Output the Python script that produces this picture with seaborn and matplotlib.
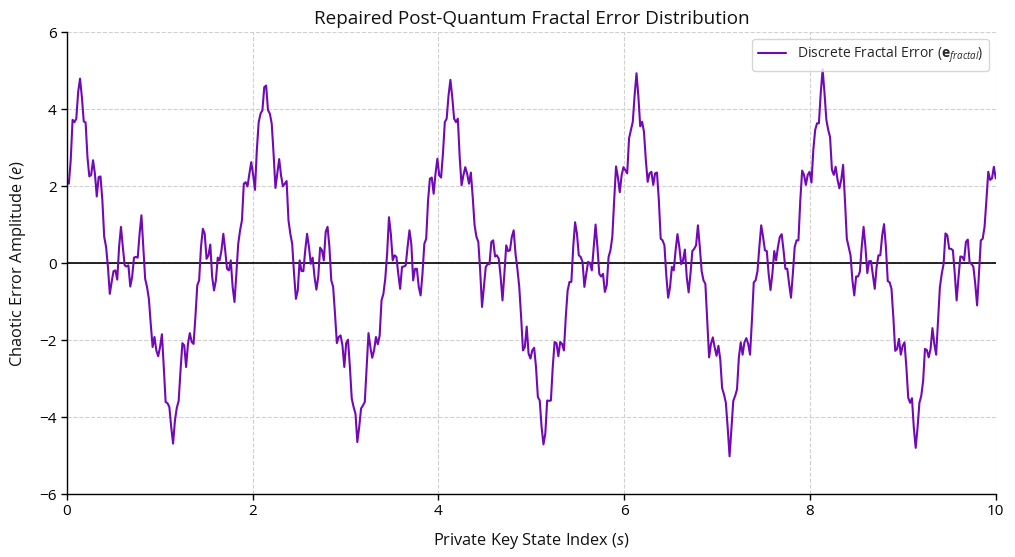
import numpy as np
import pandas as pd
import matplotlib
matplotlib.use("Agg")
import matplotlib.pyplot as plt
import seaborn as sns

# error amplitude, one list per 2-unit stretch of the index
period_1 = [2.15, 2.06, 2.67, 3.72, 3.66, 3.75, 4.44, 4.79, 4.31, 3.68,
            3.65, 2.75, 2.25, 2.29, 2.67, 2.32, 1.73, 2.23, 2.25, 1.63,
            0.68, 0.42, -0.10, -0.80, -0.49, -0.21, -0.19, -0.43, 0.42, 0.94,
            0.42, -0.06, -0.09, -0.06, -0.61, -0.36, 0.14, 0.16, 0.14, 0.76,
            1.24, 0.42, -0.41, -0.62, -0.93, -1.58, -2.18, -1.92, -2.27, -2.42,
            -2.18, -1.85, -2.70, -3.61, -3.64, -3.74, -4.26, -4.69, -4.09, -3.76,
            -3.58, -2.79, -2.08, -2.14, -2.70, -2.10, -1.82, -2.05, -2.10, -1.40,
            -0.58, -0.45, 0.42, 0.89, 0.76, 0.11, 0.20, 0.48, -0.36, -0.71,
            -0.45, 0.14, 0.07, 0.33, 0.76, 0.33, -0.15, -0.19, 0.07, -0.62,
            -1.01, -0.28, 0.50, 0.85, 1.11, 2.06, 2.10, 1.99, 2.32, 2.62]
period_2 = [2.30, 1.90, 2.93, 3.66, 3.88, 3.97, 4.57, 4.61, 3.97, 3.88,
            3.62, 2.84, 1.95, 2.32, 2.70, 2.28, 1.99, 2.06, 2.13, 1.11,
            0.76, 0.50, -0.28, -0.93, -0.71, 0.07, -0.21, -0.21, 0.33, 0.76,
            0.42, -0.02, 0.14, -0.36, -0.69, -0.36, 0.40, 0.33, 0.07, 0.81,
            0.94, 0.42, -0.45, -0.62, -1.32, -2.08, -1.92, -1.88, -2.14, -2.70,
            -2.08, -1.99, -2.70, -3.52, -3.74, -3.91, -4.65, -4.26, -3.78, -3.70,
            -3.61, -2.70, -1.82, -2.18, -2.46, -2.27, -1.92, -2.11, -1.88, -0.97,
            -0.80, -0.41, 0.24, 1.19, 0.76, 0.07, 0.20, 0.16, -0.28, -0.67,
            -0.10, -0.09, -0.06, 0.42, 0.85, 0.50, -0.45, -0.15, -0.15, -0.62,
            -0.84, -0.28, 0.50, 0.63, 1.63, 2.19, 2.22, 1.80, 2.32, 2.71]
period_3 = [2.28, 2.22, 2.84, 3.66, 3.75, 4.35, 4.76, 4.31, 3.75, 3.66,
            3.75, 2.75, 2.02, 2.28, 2.49, 2.32, 2.06, 2.35, 1.71, 0.98,
            0.68, 0.55, -0.19, -1.14, -0.62, -0.10, -0.03, -0.03, 0.55, 0.59,
            0.17, 0.20, 0.11, -0.36, -0.97, -0.28, 0.46, 0.31, 0.33, 0.68,
            0.85, 0.24, -0.15, -0.62, -1.40, -2.27, -2.18, -1.65, -2.35, -2.48,
            -2.27, -2.20, -2.70, -3.48, -3.57, -4.26, -4.71, -4.43, -3.57, -3.58,
            -3.57, -2.70, -2.05, -2.08, -2.42, -2.05, -2.10, -2.27, -1.40, -0.71,
            -0.49, -0.49, 0.42, 1.06, 0.76, 0.20, 0.16, 0.03, -0.62, -0.28,
            0.03, 0.00, -0.19, 0.42, 1.00, 0.42, -0.28, -0.35, -0.28, -0.75,
            -0.58, 0.16, 0.33, 0.68, 1.63, 2.51, 2.23, 1.84, 2.28, 2.49]
period_4 = [2.41, 2.33, 3.24, 3.46, 3.67, 4.37, 4.93, 4.33, 3.55, 3.67,
            3.41, 2.68, 2.11, 2.33, 2.37, 2.03, 2.33, 2.35, 1.63, 0.63,
            0.59, 0.46, -0.32, -0.90, -0.63, -0.10, -0.19, 0.33, 0.75, 0.42,
            -0.03, 0.07, 0.35, -0.37, -0.76, -0.28, 0.31, 0.37, 0.46, 0.98,
            0.42, -0.21, -0.45, -0.54, -1.50, -2.45, -2.10, -1.93, -2.19, -2.41,
            -2.15, -2.50, -3.25, -3.41, -3.63, -4.28, -5.02, -4.28, -3.58, -3.45,
            -3.28, -2.45, -2.06, -2.38, -2.06, -1.95, -2.10, -2.38, -1.50, -0.50,
            -0.45, -0.21, 0.42, 0.98, 0.68, 0.33, 0.31, -0.28, -0.70, -0.28,
            0.31, 0.07, 0.42, 0.68, 0.75, 0.33, -0.15, -0.15, -0.54, -0.90,
            -0.28, 0.42, 0.59, 0.59, 1.63, 2.40, 2.29, 2.03, 2.29, 2.37]
period_5 = [2.09, 2.94, 3.46, 3.63, 3.63, 4.42, 5.03, 4.42, 3.72, 3.46,
            3.27, 2.42, 2.29, 2.50, 2.17, 1.94, 2.16, 2.55, 1.63, 0.63,
            0.42, 0.20, -0.45, -0.84, -0.35, -0.35, -0.23, 0.42, 0.94, 0.42,
            -0.26, 0.05, 0.05, -0.32, -0.67, -0.10, 0.20, 0.20, 0.72, 1.01,
            0.42, -0.47, -0.50, -0.67, -1.41, -2.28, -2.23, -1.97, -2.38, -2.15,
            -2.06, -2.71, -3.50, -3.63, -3.51, -4.28, -4.80, -4.28, -3.63, -3.45,
            -3.06, -2.23, -2.26, -2.45, -2.23, -1.69, -2.10, -2.38, -1.50, -0.63,
            -0.28, -0.02, 0.77, 0.72, 0.37, 0.37, 0.33, -0.28, -0.97, -0.37,
            0.17, 0.16, 0.07, 0.55, 0.61, 0.00, -0.02, -0.10, -0.54, -1.10,
            -0.28, 0.59, 0.63, 0.94, 1.63, 2.37, 2.16, 2.20, 2.50, 2.20]

x_ticks = [0, 2, 4, 6, 8, 10]
y_ticks = [-6, -4, -2, 0, 2, 4, 6]

error = np.array(period_1 + period_2 + period_3 + period_4 + period_5)
df = pd.DataFrame({"s": np.linspace(0, 10, len(error)), "e": error})

sns.set_theme(style="whitegrid")
plt.rcParams["font.family"] = ["Open Sans", "DejaVu Sans"]
plt.rcParams["mathtext.fontset"] = "custom"
plt.rcParams["mathtext.rm"] = "Open Sans"
plt.rcParams["mathtext.it"] = "Open Sans:italic"
plt.rcParams["mathtext.bf"] = "Open Sans:bold"

fig, ax = plt.subplots(figsize=(10.15, 5.57), dpi=100)
fig.subplots_adjust(left=0.066, right=0.981, top=0.9425, bottom=0.113)

sns.lineplot(data=df, x="s", y="e", ax=ax, color="#7209b7", linewidth=1.5,
             label=r"Discrete Fractal Error ($\mathbf{e}_{fractal}$)")
ax.axhline(0, color="black", linewidth=1.2, zorder=1)

ax.set_xlim(0, 10)
ax.set_ylim(-6, 6)
ax.set_xticks(x_ticks)
ax.set_yticks(y_ticks)
ax.grid(True, linestyle="--", color="#d0d0d0", linewidth=0.8)
sns.despine(ax=ax)
for sp in ["left", "bottom"]:
    ax.spines[sp].set_color("black")
    ax.spines[sp].set_linewidth(1.0)
ax.tick_params(axis="both", which="major", labelsize=11, length=4, width=1,
               color="black", bottom=True, left=True, labelcolor="black")

ax.set_title("Repaired Post-Quantum Fractal Error Distribution", fontsize=13.6, color="#111111")
ax.set_xlabel(r"Private Key State Index ($s$)", fontsize=11.8, labelpad=8, color="#111111")
ax.set_ylabel(r"Chaotic Error Amplitude ($e$)", fontsize=11.8, labelpad=8, color="#111111")

leg = ax.legend(loc="upper right", fontsize=10, frameon=True, fancybox=True)
leg.get_frame().set_edgecolor("#cccccc")

fig.savefig("out.png", dpi=100)
